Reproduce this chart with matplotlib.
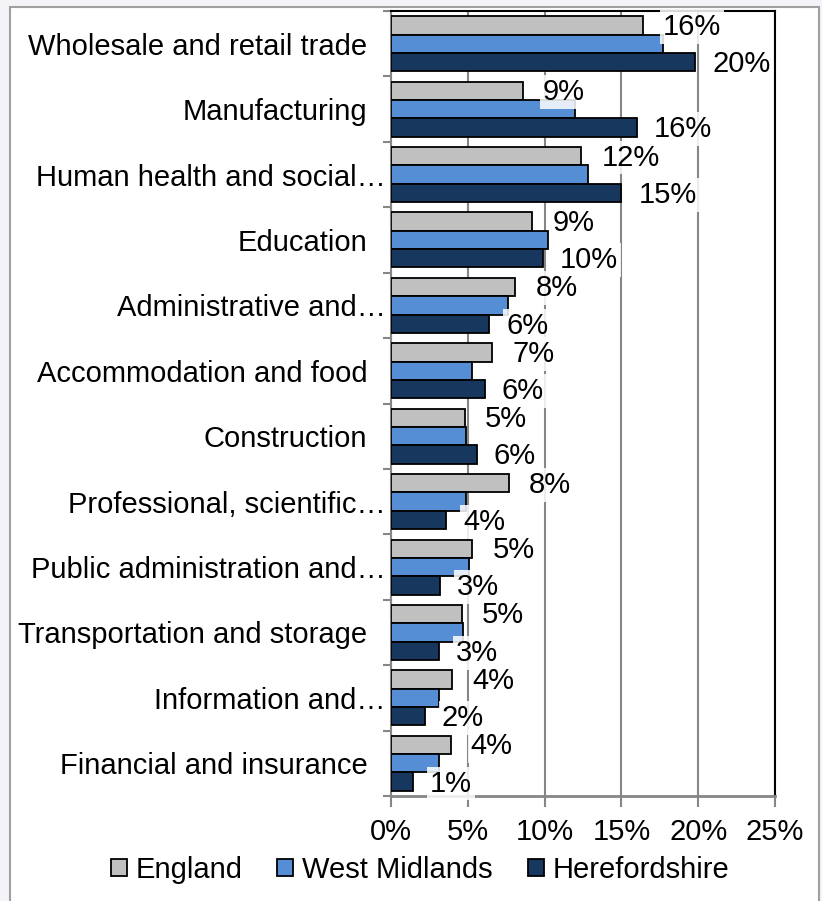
import matplotlib.pyplot as plt
import matplotlib.patches as mpatches
import matplotlib.transforms as mtrans
import numpy as np

plt.rcParams['font.family'] = ['Liberation Sans', 'DejaVu Sans']

sectors = ["Wholesale and retail trade", "Manufacturing", "Human health and social\u2026",
           "Education", "Administrative and\u2026", "Accommodation and food",
           "Construction", "Professional, scientific\u2026", "Public administration and\u2026",
           "Transportation and storage", "Information and\u2026", "Financial and insurance"]
england = [16.4, 8.6, 12.4, 9.2, 8.1, 6.6, 4.8, 7.7, 5.3, 4.6, 4.0, 3.9]
west_mid = [17.7, 12.0, 12.8, 10.2, 7.6, 5.3, 4.9, 4.9, 5.1, 4.7, 3.1, 3.1]
hereford = [19.8, 16.0, 15.0, 9.9, 6.4, 6.1, 5.6, 3.6, 3.2, 3.1, 2.2, 1.45]

W, H = 822, 901
fs = 21
fig = plt.figure(figsize=(W / 100, H / 100), dpi=100, facecolor='#f4f4f8')
# white chart frame
fig.patches.append(mpatches.Rectangle((10 / W, -0.01), 809 / W, 1.01 - 7 / H, transform=fig.transFigure,
                                      facecolor='white', edgecolor='#a0a0a0', lw=1.5, zorder=-10))

ax = fig.add_axes([391 / W, 1 - 796 / H, 384 / W, 785 / H])
ax.set_facecolor('white')

n = len(sectors)
y = np.arange(n)
h = 0.28
cols = ['#c0c0c0', '#558ed5', '#17375e']
series = [england, west_mid, hereford]
names = ['England', 'West Midlands', 'Herefordshire']
for i, (vals, c, nm) in enumerate(zip(series, cols, names)):
    ax.barh(y + (i - 1) * h, vals, height=h, color=c, edgecolor='black', lw=1.3, label=nm, zorder=3)

lab_box = dict(boxstyle='square,pad=0.1', facecolor='white', edgecolor='none', alpha=0.85)
for i in range(n):
    ax.text(england[i] + 1.3, y[i] - h + 0.02, "%d%%" % round(england[i]), va='center', ha='left',
            fontsize=fs, bbox=lab_box, zorder=4)
    ax.text(hereford[i] + 1.1, y[i] + h + 0.03, "%d%%" % round(hereford[i]), va='center', ha='left',
            fontsize=fs, bbox=lab_box, zorder=4)

ax.set_xlim(0, 25)
ax.set_ylim(n - 0.5, -0.5)
ax.set_xticks(np.arange(0, 26, 5))
ax.set_xticklabels(["%d%%" % v for v in range(0, 26, 5)], fontsize=fs)
ax.tick_params(axis='x', direction='out', length=8, width=1.5, color='#868686', pad=8)
ax.set_yticks(y)
ax.set_yticklabels(sectors, fontsize=fs)
ax.tick_params(axis='y', length=0, pad=4)
ax.set_yticks(np.arange(n + 1) - 0.5, minor=True)
ax.tick_params(axis='y', which='minor', direction='out', length=6, width=1.5, color='#868686')

# labels without ellipsis sit a bit further left
for lab in ax.get_yticklabels():
    if not lab.get_text().endswith('\u2026'):
        off = mtrans.ScaledTranslation(-18 / 100, 0, fig.dpi_scale_trans)
        lab.set_transform(lab.get_transform() + off)

ax.grid(axis='x', color='#868686', lw=1.5, zorder=1)
ax.spines['left'].set_color('#868686')
ax.spines['left'].set_linewidth(1.5)
ax.spines['bottom'].set_color('#868686')
ax.spines['bottom'].set_linewidth(2)
ax.spines['top'].set_color('black')
ax.spines['right'].set_color('black')
ax.spines['top'].set_linewidth(1.5)
ax.spines['right'].set_linewidth(1.5)

fig.legend(loc='center', bbox_to_anchor=(420 / W, 1 - 870 / H), ncol=3, frameon=False, fontsize=fs,
           handlelength=0.55, handleheight=0.55, handletextpad=0.3, columnspacing=1.2)

fig.savefig('out.png', dpi=100, facecolor=fig.get_facecolor())
